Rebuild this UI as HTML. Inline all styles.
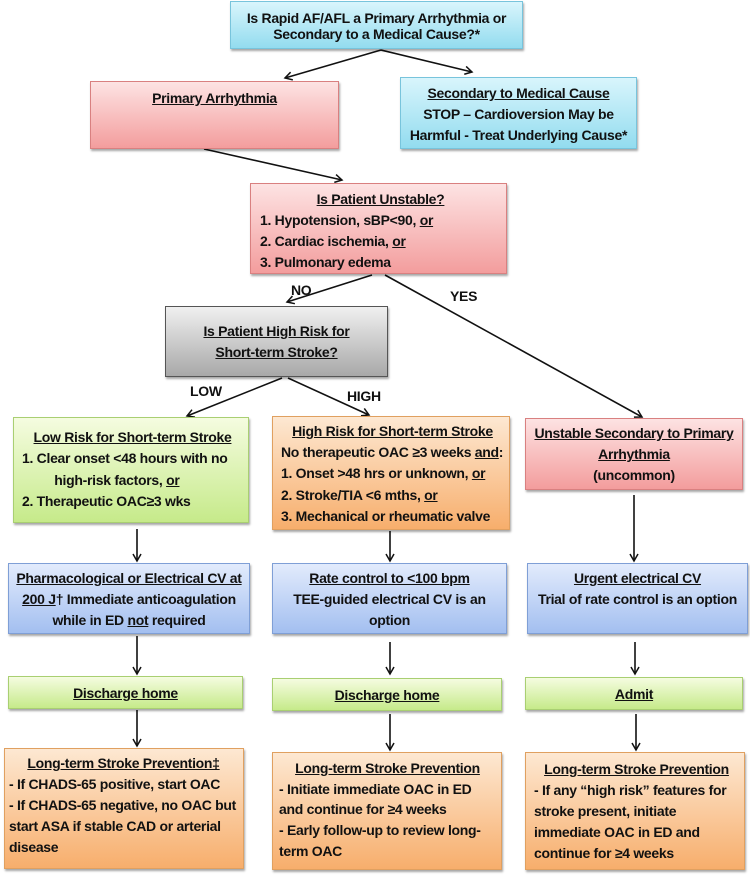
<!DOCTYPE html>
<html><head><meta charset="utf-8"><style>
body{margin:0;width:750px;height:879px;background:#fff;position:relative;overflow:hidden;font-family:"Liberation Sans",Arial,sans-serif;font-weight:bold;color:#111}
.b{position:absolute;box-sizing:border-box;border:1px solid #999;box-shadow:1px 2px 2px rgba(0,0,0,.35);font-size:14px;letter-spacing:-0.3px;padding:0 5px;white-space:nowrap}
.c{text-align:center}
.pink{background:linear-gradient(#fde3e3,#f39d9d);border-color:#d98080}
.cyan{background:linear-gradient(#d9f5fc,#93dcef);border-color:#78c4dc}
.grey{background:linear-gradient(#f0f0f0,#a8a8a8);border-color:#555}
.green{background:linear-gradient(#f5fce0,#c6ea8a);border-color:#a9cf72}
.orange{background:linear-gradient(#fde8d2,#f7ae6c);border-color:#e0a060}
.blue{background:linear-gradient(#e2ebfc,#a3bff0);border-color:#7f9fd6}
u{text-decoration:underline}
.l{position:absolute;font-size:14px;letter-spacing:-0.3px}
svg{position:absolute;left:0;top:0}
</style></head><body>
<svg width="750" height="879" viewBox="0 0 750 879">
<defs><marker id="a" markerWidth="10" markerHeight="10" refX="8" refY="5" orient="auto" markerUnits="userSpaceOnUse"><path d="M1,1 L8,5 L1,9" fill="none" stroke="#111" stroke-width="1.5"/></marker></defs>
<g stroke="#111" stroke-width="1.6" fill="none" marker-end="url(#a)">
<line x1="381" y1="50" x2="285" y2="78"/>
<line x1="381" y1="50" x2="472" y2="72"/>
<line x1="204" y1="149" x2="342" y2="180"/>
<line x1="372" y1="275" x2="287" y2="302"/>
<line x1="385" y1="275" x2="642" y2="417"/>
<line x1="282" y1="378" x2="187" y2="416"/>
<line x1="288" y1="378" x2="369" y2="415"/>
<line x1="137" y1="529" x2="137" y2="561"/>
<line x1="390" y1="531" x2="390" y2="561"/>
<line x1="634" y1="495" x2="634" y2="561"/>
<line x1="137" y1="636" x2="137" y2="674"/>
<line x1="390" y1="642" x2="390" y2="674"/>
<line x1="635" y1="642" x2="635" y2="674"/>
<line x1="137" y1="710" x2="137" y2="746"/>
<line x1="390" y1="714" x2="390" y2="750"/>
<line x1="636" y1="714" x2="636" y2="750"/>
</g>
</svg>
<div class="b cyan c" style="left:230px;top:1px;width:293px;height:48px;padding-top:8px;line-height:16px">Is Rapid AF/AFL a Primary Arrhythmia or<br>Secondary to a Medical Cause?*</div>
<div class="b pink c" style="left:90px;top:81px;width:249px;height:68px;padding-top:6px;line-height:21px"><u>Primary Arrhythmia</u></div>
<div class="b cyan c" style="left:400px;top:77px;width:237px;height:72px;padding-top:5px;line-height:21px"><u>Secondary to Medical Cause</u><br>STOP – Cardioversion May be<br>Harmful - Treat Underlying Cause*</div>
<div class="b pink" style="left:250px;top:183px;width:257px;height:91px;padding-top:5px;line-height:21px;padding-left:9px"><div class="c"><u>Is Patient Unstable?</u></div>1. Hypotension, sBP&lt;90, <u>or</u><br>2. Cardiac ischemia, <u>or</u><br>3. Pulmonary edema</div>
<div class="l" style="left:291px;top:282px">NO</div>
<div class="l" style="left:450px;top:288px">YES</div>
<div class="b grey c" style="left:165px;top:306px;width:223px;height:71px;padding-top:14px;line-height:21px"><u>Is Patient High Risk for</u><br><u>Short-term Stroke?</u></div>
<div class="l" style="left:190px;top:383px">LOW</div>
<div class="l" style="left:347px;top:388px">HIGH</div>
<div class="b green" style="left:13px;top:417px;width:236px;height:106px;padding-top:9px;line-height:21.3px;padding-left:8px"><div class="c"><u>Low Risk for Short-term Stroke</u></div>1. Clear onset &lt;48 hours with no<br>&nbsp;&nbsp;&nbsp;&nbsp;&nbsp;&nbsp;&nbsp;&nbsp;&nbsp;high-risk factors, <u>or</u><br>2. Therapeutic OAC≥3 wks</div>
<div class="b orange" style="left:272px;top:416px;width:238px;height:114px;padding-top:4px;line-height:21.2px;padding-left:8px"><div class="c"><u>High Risk for Short-term Stroke</u></div>No therapeutic OAC ≥3 weeks <u>and</u>:<br>1. Onset &gt;48 hrs or unknown, <u>or</u><br>2. Stroke/TIA &lt;6 mths, <u>or</u><br>3. Mechanical or rheumatic valve</div>
<div class="b pink c" style="left:525px;top:418px;width:218px;height:72px;padding-top:4px;line-height:21px"><u>Unstable Secondary to Primary</u><br><u>Arrhythmia</u><br>(uncommon)</div>
<div class="b blue c" style="left:8px;top:563px;width:242px;height:71px;padding-top:4px;line-height:21px"><u>Pharmacological or Electrical CV at</u><br><u>200 J</u>† Immediate anticoagulation<br>while in ED <u>not</u> required</div>
<div class="b blue c" style="left:272px;top:563px;width:235px;height:71px;padding-top:4px;line-height:21px"><u>Rate control to &lt;100 bpm</u><br>TEE-guided electrical CV is an<br>option</div>
<div class="b blue c" style="left:527px;top:563px;width:221px;height:71px;padding-top:4px;line-height:21px"><u>Urgent electrical CV</u><br>Trial of rate control is an option</div>
<div class="b green c" style="left:8px;top:676px;width:235px;height:33px;padding-top:6px;line-height:20px"><u>Discharge home</u></div>
<div class="b green c" style="left:272px;top:678px;width:230px;height:33px;padding-top:6px;line-height:20px"><u>Discharge home</u></div>
<div class="b green c" style="left:525px;top:677px;width:218px;height:33px;padding-top:6px;line-height:20px"><u>Admit</u></div>
<div class="b orange" style="left:4px;top:748px;width:240px;height:121px;padding-top:4px;line-height:21px;padding-left:4px"><div class="c"><u>Long-term Stroke Prevention‡</u></div>- If CHADS-65 positive, start OAC<br>- If CHADS-65 negative, no OAC but<br>start ASA if stable CAD or arterial<br>disease</div>
<div class="b orange" style="left:272px;top:752px;width:230px;height:118px;padding-top:5px;line-height:20.7px;padding-left:6px"><div class="c"><u>Long-term Stroke Prevention</u></div>- Initiate immediate OAC in ED<br>and continue for ≥4 weeks<br>- Early follow-up to review long-<br>term OAC</div>
<div class="b orange" style="left:525px;top:752px;width:220px;height:118px;padding-top:6px;line-height:21px;padding-left:8px"><div class="c"><u>Long-term Stroke Prevention</u></div>- If any “high risk” features for<br>stroke present, initiate<br>immediate OAC in ED and<br>continue for ≥4 weeks</div>
</body></html>
